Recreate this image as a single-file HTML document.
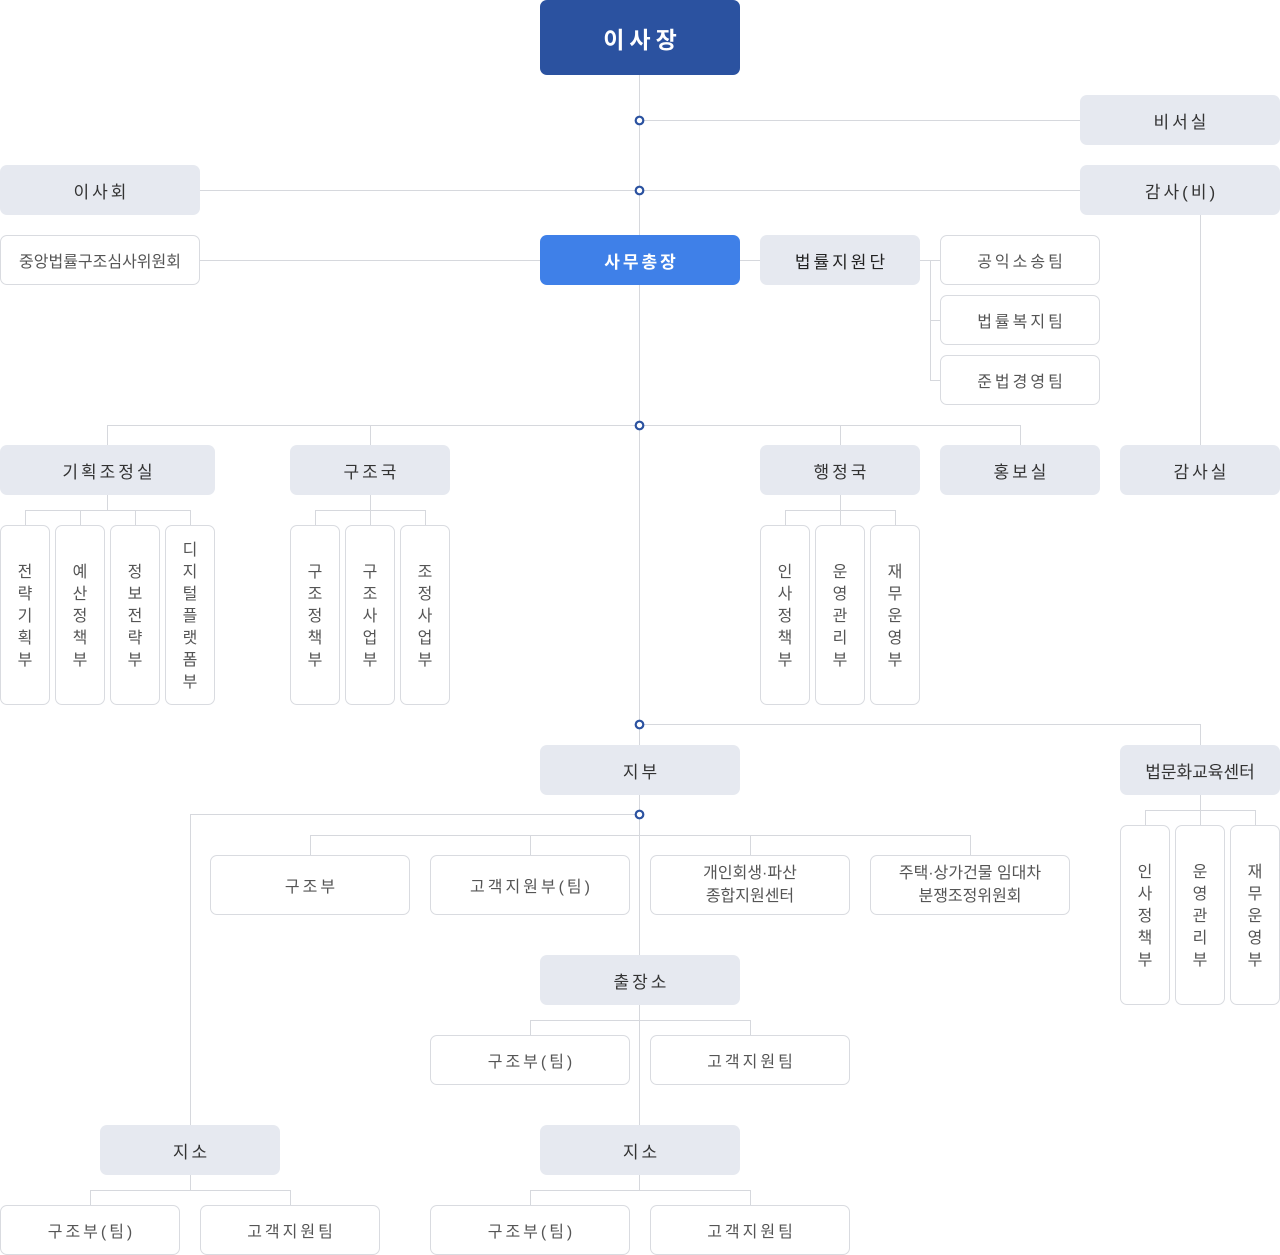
<!DOCTYPE html>
<html><head><meta charset="utf-8"><style>
body{margin:0;width:1280px;height:1255px;position:relative;background:#fff;font-family:"Liberation Sans","Noto Sans CJK KR",sans-serif;overflow:hidden}
.b{position:absolute;box-sizing:border-box;border-radius:7px;display:flex;align-items:center;justify-content:center;text-align:center;color:#444;font-size:17px;letter-spacing:3px;padding-left:3px}
.g{background:#e6e9f0;color:#333}
.w{background:#fff;border:1px solid #d9dbe0;color:#555;font-size:16px}
.v{line-height:22px;letter-spacing:0;padding-left:0;padding-top:4px}
svg{position:absolute;left:0;top:0}
</style></head><body>
<svg width="1280" height="1255" stroke="#d6d8dd" stroke-width="1" fill="none">
<path d="M639.5 75V1190M639.5 120.5H1080M200 190.5H1080M200 260.5H540M740 260.5H760M920 260.5H940M930.5 260V380M930 320.5H940M930 380.5H940M1200.5 215V445"/>
<path d="M107.5 425.5H1020.5M107.5 425V445M370.5 425V445M840.5 425V445M1020.5 425V445"/>
<path d="M107.5 495V510M25.5 510.5H190.5M25.5 510V525M80.5 510V525M135.5 510V525M190.5 510V525"/>
<path d="M370.5 495V525M315.5 510.5H425.5M315.5 510V525M425.5 510V525"/>
<path d="M840.5 495V525M785.5 510.5H895.5M785.5 510V525M895.5 510V525"/>
<path d="M639.5 724.5H1200.5V745M1200.5 795V825M1145.5 810.5H1255.5M1145.5 810V825M1255.5 810V825"/>
<path d="M190.5 814.5H639.5M190.5 814V1125M310.5 835.5H970.5M310.5 835V855M530.5 835V855M750.5 835V855M970.5 835V855"/>
<path d="M530.5 1020.5H750.5M530.5 1020V1035M750.5 1020V1035"/>
<path d="M190.5 1175V1190M90.5 1190.5H290.5M90.5 1190V1205M290.5 1190V1205"/>
<path d="M530.5 1190.5H750.5M530.5 1190V1205M750.5 1190V1205"/>
<g fill="#fff" stroke="#2b52a0" stroke-width="2.2">
<circle cx="639.5" cy="120.5" r="3.8"/><circle cx="639.5" cy="190.5" r="3.8"/><circle cx="639.5" cy="425.5" r="3.8"/><circle cx="639.5" cy="724.5" r="3.8"/><circle cx="639.5" cy="814.5" r="3.8"/>
</g>
</svg>
<div class="b" style="left:540px;top:0;width:200px;height:75px;background:#2b52a0;color:#fff;font-size:23px;font-weight:bold;letter-spacing:5px;padding-left:5px">이사장</div>
<div class="b g" style="left:1080px;top:95px;width:200px;height:50px">비서실</div>
<div class="b g" style="left:0;top:165px;width:200px;height:50px">이사회</div>
<div class="b g" style="left:1080px;top:165px;width:200px;height:50px">감사(비)</div>
<div class="b w" style="left:0;top:235px;width:200px;height:50px;letter-spacing:0;padding-left:0">중앙법률구조심사위원회</div>
<div class="b" style="left:540px;top:235px;width:200px;height:50px;background:#3f80e8;color:#fff;font-weight:bold">사무총장</div>
<div class="b g" style="left:760px;top:235px;width:160px;height:50px;color:#222">법률지원단</div>
<div class="b w" style="left:940px;top:235px;width:160px;height:50px">공익소송팀</div>
<div class="b w" style="left:940px;top:295px;width:160px;height:50px">법률복지팀</div>
<div class="b w" style="left:940px;top:355px;width:160px;height:50px">준법경영팀</div>
<div class="b g" style="left:0;top:445px;width:215px;height:50px">기획조정실</div>
<div class="b g" style="left:290px;top:445px;width:160px;height:50px">구조국</div>
<div class="b g" style="left:760px;top:445px;width:160px;height:50px">행정국</div>
<div class="b g" style="left:940px;top:445px;width:160px;height:50px">홍보실</div>
<div class="b g" style="left:1120px;top:445px;width:160px;height:50px">감사실</div>
<div class="b w v" style="left:0;top:525px;width:50px;height:180px">전<br>략<br>기<br>획<br>부</div>
<div class="b w v" style="left:55px;top:525px;width:50px;height:180px">예<br>산<br>정<br>책<br>부</div>
<div class="b w v" style="left:110px;top:525px;width:50px;height:180px">정<br>보<br>전<br>략<br>부</div>
<div class="b w v" style="left:165px;top:525px;width:50px;height:180px">디<br>지<br>털<br>플<br>랫<br>폼<br>부</div>
<div class="b w v" style="left:290px;top:525px;width:50px;height:180px">구<br>조<br>정<br>책<br>부</div>
<div class="b w v" style="left:345px;top:525px;width:50px;height:180px">구<br>조<br>사<br>업<br>부</div>
<div class="b w v" style="left:400px;top:525px;width:50px;height:180px">조<br>정<br>사<br>업<br>부</div>
<div class="b w v" style="left:760px;top:525px;width:50px;height:180px">인<br>사<br>정<br>책<br>부</div>
<div class="b w v" style="left:815px;top:525px;width:50px;height:180px">운<br>영<br>관<br>리<br>부</div>
<div class="b w v" style="left:870px;top:525px;width:50px;height:180px">재<br>무<br>운<br>영<br>부</div>
<div class="b g" style="left:540px;top:745px;width:200px;height:50px">지부</div>
<div class="b g" style="left:1120px;top:745px;width:160px;height:50px;letter-spacing:0;padding-left:0">법문화교육센터</div>
<div class="b w v" style="left:1120px;top:825px;width:50px;height:180px">인<br>사<br>정<br>책<br>부</div>
<div class="b w v" style="left:1175px;top:825px;width:50px;height:180px">운<br>영<br>관<br>리<br>부</div>
<div class="b w v" style="left:1230px;top:825px;width:50px;height:180px">재<br>무<br>운<br>영<br>부</div>
<div class="b w" style="left:210px;top:855px;width:200px;height:60px">구조부</div>
<div class="b w" style="left:430px;top:855px;width:200px;height:60px">고객지원부(팀)</div>
<div class="b w" style="left:650px;top:855px;width:200px;height:60px;letter-spacing:0;padding-left:0;line-height:23px">개인회생·파산<br>종합지원센터</div>
<div class="b w" style="left:870px;top:855px;width:200px;height:60px;letter-spacing:0;padding-left:0;line-height:23px">주택·상가건물 임대차<br>분쟁조정위원회</div>
<div class="b g" style="left:540px;top:955px;width:200px;height:50px">출장소</div>
<div class="b w" style="left:430px;top:1035px;width:200px;height:50px">구조부(팀)</div>
<div class="b w" style="left:650px;top:1035px;width:200px;height:50px">고객지원팀</div>
<div class="b g" style="left:100px;top:1125px;width:180px;height:50px">지소</div>
<div class="b g" style="left:540px;top:1125px;width:200px;height:50px">지소</div>
<div class="b w" style="left:0;top:1205px;width:180px;height:50px">구조부(팀)</div>
<div class="b w" style="left:200px;top:1205px;width:180px;height:50px">고객지원팀</div>
<div class="b w" style="left:430px;top:1205px;width:200px;height:50px">구조부(팀)</div>
<div class="b w" style="left:650px;top:1205px;width:200px;height:50px">고객지원팀</div>
</body></html>
